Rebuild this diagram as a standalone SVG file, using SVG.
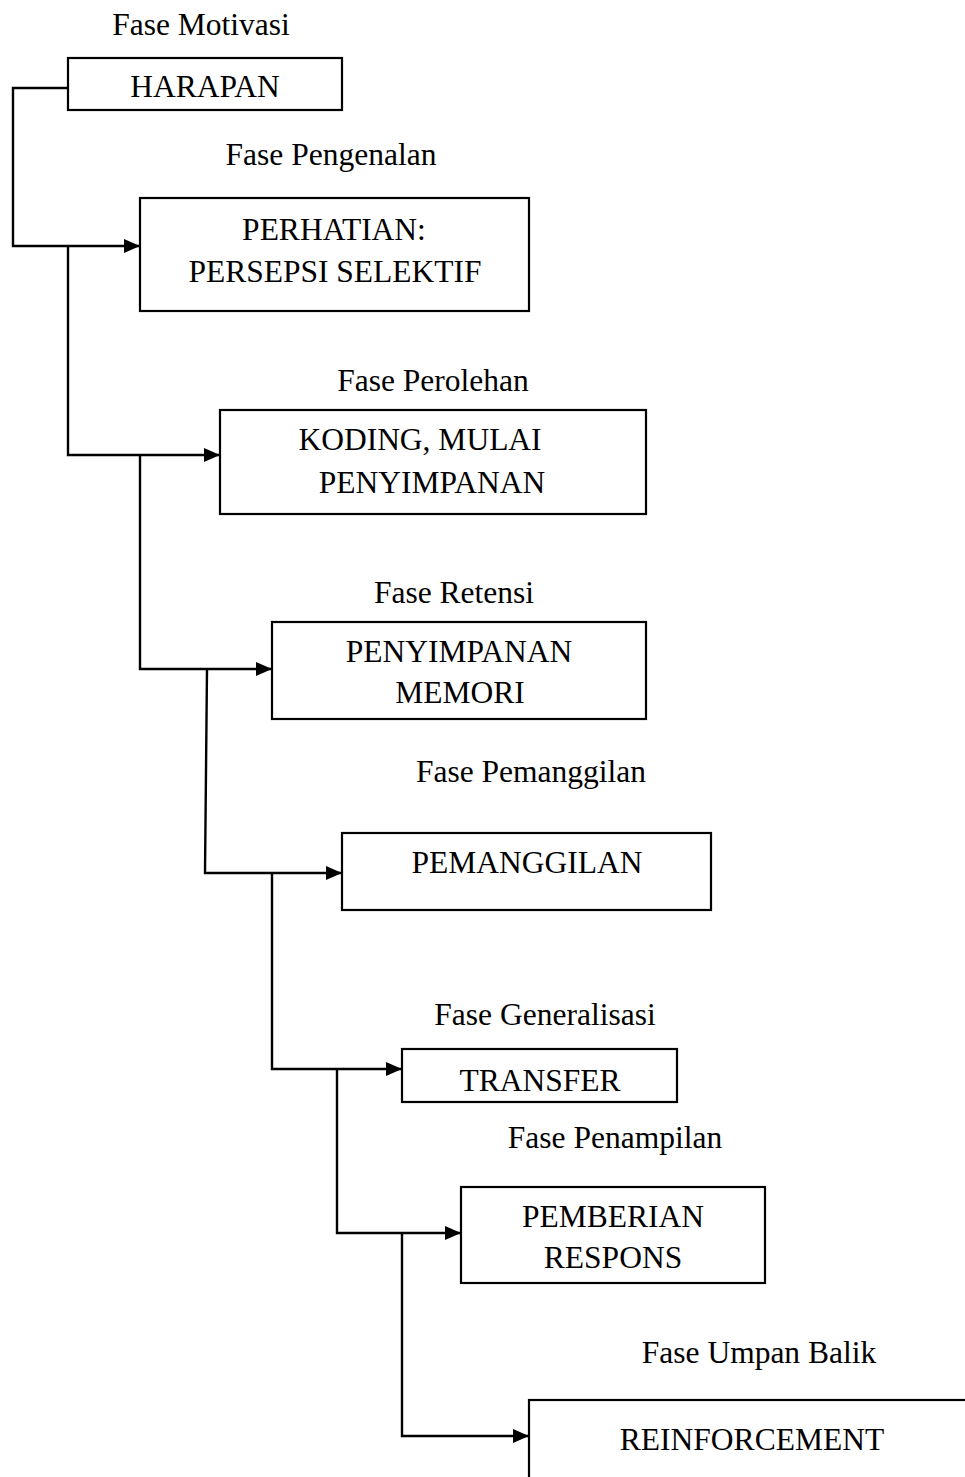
<svg xmlns="http://www.w3.org/2000/svg" width="965" height="1477" viewBox="0 0 965 1477">
<style>
  .box { fill: #ffffff; stroke: #000000; stroke-width: 2.2; }
  .t { font-family: "Liberation Serif", "Times New Roman", serif; font-size: 31.5px; fill: #000000; text-anchor: middle; }
  .conn { fill: none; stroke: #000000; stroke-width: 2.4; }
</style>
<defs>
  <marker id="arrow" markerWidth="16" markerHeight="14" refX="16" refY="7" orient="auto" markerUnits="userSpaceOnUse">
    <path d="M0,0 L16,7 L0,14 Z" fill="#000000"/>
  </marker>
</defs>
<rect width="965" height="1477" fill="#ffffff"/>

<g id="connectors">
  <path class="conn" d="M68,88 H13 V246 H140" marker-end="url(#arrow)"/>
  <path class="conn" d="M68,246 V455 H220" marker-end="url(#arrow)"/>
  <path class="conn" d="M140,455 V669 H272" marker-end="url(#arrow)"/>
  <path class="conn" d="M207,669 L205,873 H342" marker-end="url(#arrow)"/>
  <path class="conn" d="M272,873 V1069 H402" marker-end="url(#arrow)"/>
  <path class="conn" d="M337,1069 V1233 H461" marker-end="url(#arrow)"/>
  <path class="conn" d="M402,1233 V1436 H529" marker-end="url(#arrow)"/>
</g>

<g id="harapan">
  <text class="t" x="201" y="35">Fase Motivasi</text>
  <rect class="box" x="68" y="58" width="274" height="52"/>
  <text class="t" x="205" y="97">HARAPAN</text>
</g>

<g id="perhatian">
  <text class="t" x="331" y="165">Fase Pengenalan</text>
  <rect class="box" x="140" y="198" width="389" height="113"/>
  <text class="t" x="334" y="240">PERHATIAN:</text>
  <text class="t" x="335" y="282">PERSEPSI SELEKTIF</text>
</g>

<g id="koding">
  <text class="t" x="433" y="391">Fase Perolehan</text>
  <rect class="box" x="220" y="410" width="426" height="104"/>
  <text class="t" x="420" y="450">KODING, MULAI</text>
  <text class="t" x="432" y="493">PENYIMPANAN</text>
</g>

<g id="penyimpanan-memori">
  <text class="t" x="454" y="603">Fase Retensi</text>
  <rect class="box" x="272" y="622" width="374" height="97"/>
  <text class="t" x="459" y="662">PENYIMPANAN</text>
  <text class="t" x="460" y="703">MEMORI</text>
</g>

<g id="pemanggilan">
  <text class="t" x="531" y="782">Fase Pemanggilan</text>
  <rect class="box" x="342" y="833" width="369" height="77"/>
  <text class="t" x="527" y="873">PEMANGGILAN</text>
</g>

<g id="transfer">
  <text class="t" x="545" y="1025">Fase Generalisasi</text>
  <rect class="box" x="402" y="1049" width="275" height="53"/>
  <text class="t" x="540" y="1091">TRANSFER</text>
</g>

<g id="pemberian-respons">
  <text class="t" x="615" y="1148">Fase Penampilan</text>
  <rect class="box" x="461" y="1187" width="304" height="96"/>
  <text class="t" x="613" y="1227">PEMBERIAN</text>
  <text class="t" x="613" y="1268">RESPONS</text>
</g>

<g id="reinforcement">
  <text class="t" x="759" y="1363">Fase Umpan Balik</text>
  <rect class="box" x="529" y="1400" width="440" height="100"/>
  <text class="t" x="752" y="1450">REINFORCEMENT</text>
</g>
</svg>
